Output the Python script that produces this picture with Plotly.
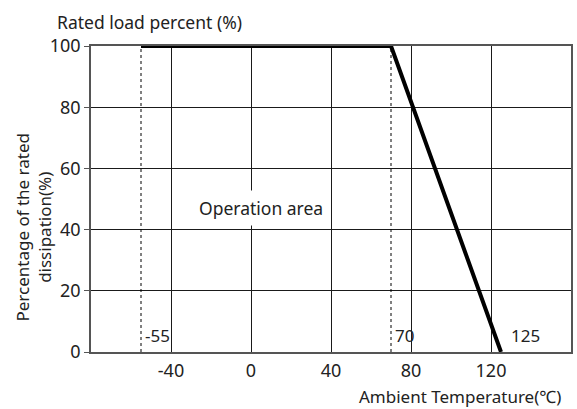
import plotly.graph_objects as go

# Derating curve: rated load percent versus ambient temperature
temp_c = [-55, 70, 125]
load_pct = [100, 100, 0]

# Reference temperatures marked with dotted lines and labels
marker_temps = [-55, 70, 125]
marker_labels = ["-55", "70", "125"]

x_ticks = [-40, 0, 40, 80, 120]
y_ticks = [0, 20, 40, 60, 80, 100]

FONT = "Noto Sans, Noto Sans CJK KR, DejaVu Sans, sans-serif"
TEXT_COLOR = "#222"

fig = go.Figure()

# dotted verticals at the lower limit and the knee temperature
for t in marker_temps[:2]:
    fig.add_trace(go.Scatter(
        x=[t, t], y=[0, 100], mode="lines",
        line=dict(color="black", width=1, dash="dot"),
        hoverinfo="skip", showlegend=False,
    ))

fig.add_trace(go.Scatter(
    x=temp_c, y=load_pct, mode="lines",
    line=dict(color="black", width=4),
    showlegend=False,
))

for t, lab in zip(marker_temps, marker_labels):
    fig.add_annotation(
        x=t, y=5.5, text=lab, showarrow=False,
        xanchor="left", xshift=2 if t != 125 else 8,
        font=dict(family=FONT, size=17, color=TEXT_COLOR),
    )

fig.add_annotation(
    x=5, y=47, text="Operation area", showarrow=False,
    bgcolor="white", borderpad=5,
    font=dict(family=FONT, size=17.5, color=TEXT_COLOR),
)

fig.add_annotation(
    xref="paper", yref="paper", x=-0.0747, y=1.078,
    text="Rated load percent (%)", showarrow=False,
    xanchor="left", yanchor="middle",
    font=dict(family=FONT, size=17.5, color=TEXT_COLOR),
)
fig.add_annotation(
    xref="paper", yref="paper", x=-0.12, y=0.408,
    text="Percentage of the rated<br>dissipation(%)", showarrow=False,
    textangle=-90, xanchor="center", yanchor="middle",
    font=dict(family=FONT, size=17, color=TEXT_COLOR),
)
fig.add_annotation(
    xref="paper", yref="paper", x=0.983, y=-0.147,
    text="Ambient Temperature(℃)", showarrow=False,
    xanchor="right", yanchor="middle",
    font=dict(family=FONT, size=17, color=TEXT_COLOR),
)

fig.update_xaxes(
    range=[-80, 160], tickvals=x_ticks, ticktext=[str(v) for v in x_ticks],
    showgrid=True, gridcolor="#1a1a1a", gridwidth=1,
    showline=True, linecolor="#555", linewidth=1.5, mirror=True,
    ticks="", ticklabelstandoff=2, zeroline=False,
    tickfont=dict(family=FONT, size=18, color=TEXT_COLOR),
)
fig.update_yaxes(
    range=[0, 100], tickvals=y_ticks,
    showgrid=True, gridcolor="#1a1a1a", gridwidth=1,
    showline=True, linecolor="#555", linewidth=1.5, mirror=True,
    ticks="outside", ticklen=5, tickcolor="#555", zeroline=False,
    tickfont=dict(family=FONT, size=18, color=TEXT_COLOR),
)

fig.update_layout(
    width=577, height=409,
    margin=dict(l=91, r=4, t=46, b=57),
    paper_bgcolor="white", plot_bgcolor="white",
)

fig.write_html("out.html")
